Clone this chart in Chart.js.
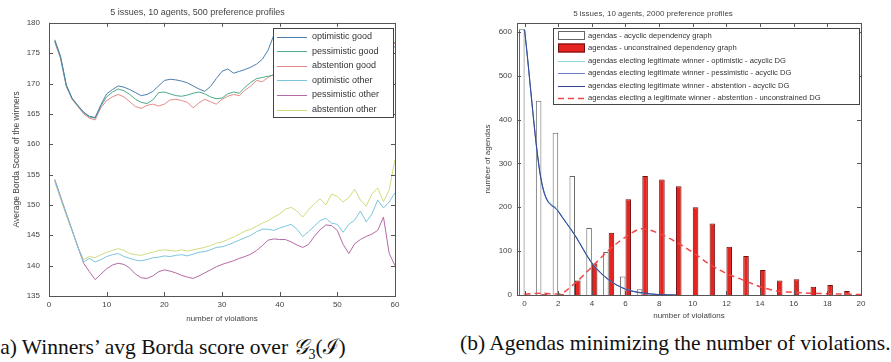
<!DOCTYPE html>
<html>
<head>
<meta charset="utf-8">
<script src="https://cdn.jsdelivr.net/npm/chart.js@4.4.0/dist/chart.umd.min.js"></script>
<style>
body { margin: 0; background: #fff; width: 891px; height: 362px; overflow: hidden; position: relative; }
canvas { position: absolute; top: 0; }
#left { left: 0; }
#right { left: 445px; }
.cap { position: absolute; top: 331px; font-family: 'Liberation Serif', 'Times New Roman', serif; font-size: 21.5px; color: #111; white-space: nowrap; }
.cap sub { font-size: 14px; }
</style>
</head>
<body>
<canvas id="left" width="445" height="326"></canvas>
<canvas id="right" width="446" height="326"></canvas>
<div class="cap" style="left:-7px">(a) Winners’ avg Borda score over <i>𝒢</i><sub>3</sub>(ℐ)</div>
<div class="cap" style="left:460px">(b) Agendas minimizing the number of violations.</div>
<script>
// (a) winners' average Borda score, x = number of violations
const violationsA = [];
for (let v = 1; v <= 60; v++) violationsA.push(v);

const optimisticGood = [177.2, 174.5, 169.8, 167.6, 166.4, 165.3, 164.6, 164.4, 166.5,
  168.3, 169.0, 169.6, 169.4, 169.0, 168.5, 168.0, 168.2, 168.7, 169.6,
  170.5, 170.7, 170.6, 170.4, 170.1, 169.6, 169.1, 168.7, 169.5, 170.8,
  172.0, 172.4, 171.7, 172.0, 172.3, 172.7, 173.2, 174.0, 175.5, 178.0,
  177.6, 177.2, 177.0, 176.8, 177.0, 176.6, 176.4, 176.8, 177.0, 176.5,
  176.2, 176.6, 176.9, 176.4, 176.0, 176.5, 176.8, 176.2, 175.8, 176.4, 176.0];
const pessimisticGood = [177.0, 174.3, 169.6, 167.5, 166.3, 165.2, 164.5, 164.3, 166.3,
  167.8, 168.6, 169.1, 168.8, 168.2, 167.4, 166.9, 166.7, 167.3, 168.5,
  168.6, 168.3, 168.0, 167.9, 168.1, 168.4, 168.6, 168.3, 167.8, 167.5,
  167.6, 168.3, 168.6, 168.4, 169.4, 170.2, 170.8, 171.0, 171.2, 171.4,
  171.8, 172.2, 172.6, 173.0, 173.4, 173.8, 174.2, 174.6, 175.0, 175.2,
  175.4, 175.6, 175.8, 176.0, 176.2, 176.0, 176.3, 176.5, 176.2, 176.6, 176.8];
const abstentionGood = [176.8, 174.1, 169.5, 167.4, 166.2, 165.0, 164.3, 164.0, 166.0,
  167.2, 167.8, 168.2, 167.8, 167.0, 166.2, 165.9, 166.4, 166.6, 166.3,
  166.6, 167.3, 167.4, 167.2, 166.9, 166.0, 166.8, 167.4, 167.0, 166.6,
  167.4, 167.9, 168.2, 168.0, 168.9, 169.6, 170.5, 170.3, 171.0, 171.5,
  171.9, 172.3, 172.6, 173.0, 173.3, 173.7, 174.0, 174.4, 174.8, 175.0,
  175.3, 175.5, 175.7, 175.9, 176.0, 175.8, 176.1, 176.3, 176.0, 176.4, 176.6];
const optimisticOther = [154.0, 151.2, 148.5, 145.8, 143.1, 140.6, 141.2, 140.6, 141.0,
  141.5, 141.8, 142.0, 141.5, 141.2, 140.9, 140.8, 141.0, 141.3, 141.4,
  141.6, 141.5, 141.7, 141.8, 141.6, 141.9, 142.2, 142.3, 142.6, 143.0,
  143.1, 143.4, 143.8, 144.2, 144.6, 145.0, 145.6, 146.0, 146.0, 145.8,
  146.2, 146.5, 146.8, 146.0, 144.8, 145.6, 146.5, 147.4, 147.8, 147.0,
  146.8, 145.5, 146.8, 147.5, 149.0, 147.2, 148.5, 150.8, 149.5, 150.5, 152.0];
const pessimisticOther = [154.2, 151.4, 148.6, 145.9, 143.1, 140.4, 139.0, 137.7, 138.6,
  139.5, 140.1, 140.4, 140.2, 139.6, 138.6, 138.0, 137.9, 138.3, 139.0,
  139.3, 139.1, 138.8, 138.4, 138.1, 137.9, 138.3, 138.8, 139.3, 139.8,
  140.2, 140.5, 140.8, 141.2, 141.5, 141.9, 142.5, 143.3, 144.2, 144.4,
  144.3, 144.3, 143.9, 143.4, 143.0, 143.5, 144.8, 145.9, 146.7, 146.6,
  145.8, 143.5, 142.0, 143.6, 144.3, 144.8, 145.2, 145.8, 148.0, 142.0, 140.0];
const abstentionOther = [153.8, 151.0, 148.3, 145.7, 143.1, 141.0, 141.5, 141.3, 141.8,
  142.2, 142.5, 142.8, 142.5, 142.0, 141.8, 141.7, 142.0, 142.2, 142.5,
  142.6, 142.5, 142.4, 142.6, 142.4, 142.6, 142.8, 143.0, 143.3, 143.7,
  143.9, 144.3, 144.7, 145.2, 145.7, 146.0, 146.5, 147.0, 147.4, 148.0,
  148.5, 149.3, 149.6, 149.0, 148.0, 149.2, 150.2, 151.0, 150.0, 151.8,
  151.4, 150.5, 151.2, 152.6, 150.8, 149.8, 151.8, 152.8, 150.5, 152.5, 157.5];

const xTicksA = [0, 10, 20, 30, 40, 50, 60];
const yTicksA = [135, 140, 145, 150, 155, 160, 165, 170, 175, 180];

// (b) agendas per number of violations
const violationsB = [0, 1, 2, 3, 4, 5, 6, 7, 8, 9, 10, 11, 12, 13, 14, 15, 16, 17, 18, 19];
const acyclicAgendas = [606, 443, 370, 271, 153, 98, 42, 13, 2, 0, 0, 0, 0, 0, 0, 0, 0, 0, 0, 0];
const unconstrainedAgendas = [1, 3, 2, 33, 72, 142, 218, 271, 263, 248, 200, 163, 110, 89, 57, 33, 36, 19, 23, 9];

const winnerViolations = [0, 1, 2, 3, 4, 5, 6, 7, 8, 9];
const optimisticAcyclic = [606, 262, 193, 137, 75, 35, 14, 4, 1, 0];
const pessimisticAcyclic = [604, 258, 190, 135, 72, 34, 14, 4, 1, 0];
const abstentionAcyclic = [605, 260, 191, 136, 73, 35, 13, 5, 1, 0];

const winnerViolationsU = [0, 1, 2, 3, 4, 5, 6, 7, 8, 9, 10, 11, 12, 13, 14, 15, 16, 17, 18, 19, 20];
const abstentionUnconstrained = [2, 4, 2, 27, 64, 102, 132, 151, 140, 121, 97, 70, 49, 34, 19, 9, 6, 4, 3, 2, 1];

const xTicksB = [0, 2, 4, 6, 8, 10, 12, 14, 16, 18, 20];
const yTicksB = [0, 100, 200, 300, 400, 500, 600];

const FONT = "'Liberation Sans', Arial, sans-serif";
const TXT = '#444';

function pts(xs, ys) {
  return xs.map((x, i) => ({ x: x, y: ys[i] }));
}

// matlab-like frame: box, inward ticks on all four sides, boxed legend in the plot
const axisBox = {
  id: 'axisBox',
  afterDatasetsDraw(chart, args, o) {
    const ctx = chart.ctx, a = chart.chartArea;
    const xs = chart.scales.x, ys = chart.scales.y;
    ctx.save();
    ctx.strokeStyle = '#555';
    ctx.lineWidth = 1;
    ctx.beginPath();
    xs.ticks.forEach(t => {
      const p = Math.round(xs.getPixelForValue(t.value)) + 0.5;
      ctx.moveTo(p, a.bottom); ctx.lineTo(p, a.bottom - 4);
      ctx.moveTo(p, a.top); ctx.lineTo(p, a.top + 4);
    });
    ys.ticks.forEach(t => {
      const p = Math.round(ys.getPixelForValue(t.value)) + 0.5;
      ctx.moveTo(a.left, p); ctx.lineTo(a.left + 4, p);
      ctx.moveTo(a.right, p); ctx.lineTo(a.right - 4, p);
    });
    ctx.stroke();

    const L = o.legend;
    ctx.fillStyle = '#fff';
    ctx.fillRect(L.x, L.y, L.w, L.h);
    ctx.strokeStyle = '#444';
    ctx.strokeRect(L.x + 0.5, L.y + 0.5, L.w, L.h);
    ctx.font = L.font;
    ctx.textBaseline = 'middle';
    chart.data.datasets.forEach((ds, i) => {
      const y = L.y + L.first + i * L.step;
      if (ds.type === 'bar') {
        ctx.fillStyle = ds.backgroundColor;
        ctx.fillRect(L.x + L.s0, y - 4.5, L.s1 - L.s0, 9);
        ctx.strokeStyle = ds.borderColor;
        ctx.strokeRect(L.x + L.s0 + 0.5, y - 4, L.s1 - L.s0 - 1, 8);
      } else {
        ctx.strokeStyle = ds.borderColor;
        ctx.lineWidth = ds.borderWidth;
        ctx.setLineDash(ds.borderDash || []);
        ctx.beginPath();
        ctx.moveTo(L.x + L.s0, Math.round(y) + 0.5);
        ctx.lineTo(L.x + L.s1, Math.round(y) + 0.5);
        ctx.stroke();
        ctx.setLineDash([]);
        ctx.lineWidth = 1;
      }
      ctx.fillStyle = '#333';
      ctx.fillText(ds.label, L.x + L.tx, y);
    });

    ctx.strokeStyle = '#555';
    ctx.strokeRect(Math.round(a.left) + 0.5, Math.round(a.top) + 0.5, Math.round(a.width), Math.round(a.height));
    ctx.restore();
  }
};

function fixedTicks(list) {
  return s => { s.ticks = list.map(v => ({ value: v })); };
}

function lineSet(label, xs, ys, color, order) {
  return { type: 'line', label: label, data: pts(xs, ys), borderColor: color, borderWidth: 1,
    pointRadius: 0, tension: 0, fill: false, order: order || 1 };
}

new Chart(document.getElementById('left'), {
  type: 'line',
  data: {
    datasets: [
      lineSet('optimistic good', violationsA, optimisticGood, '#4d7fae'),
      lineSet('pessimistic good', violationsA, pessimisticGood, '#4fa98a'),
      lineSet('abstention good', violationsA, abstentionGood, '#e48a8a'),
      lineSet('optimistic other', violationsA, optimisticOther, '#7cc6dc'),
      lineSet('pessimistic other', violationsA, pessimisticOther, '#b46aa6'),
      lineSet('abstention other', violationsA, abstentionOther, '#cfdc7e')
    ]
  },
  options: {
    responsive: false,
    animation: false,
    events: [],
    layout: { padding: { left: 0, right: 50, top: 0, bottom: 0 } },
    plugins: {
      legend: { display: false },
      tooltip: { enabled: false },
      title: { display: true, text: '5 issues, 10 agents, 500 preference profiles', color: TXT,
        font: { family: FONT, size: 9, weight: 'normal' }, padding: { top: 7, bottom: 5 } },
      axisBox: { legend: { x: 273, y: 28, w: 120, h: 89, first: 8.5, step: 14.6, s0: 4, s1: 34, tx: 39,
        font: '9px ' + FONT } }
    },
    scales: {
      x: {
        type: 'linear', min: 0, max: 60, offset: false,
        afterBuildTicks: fixedTicks(xTicksA),
        afterFit: s => { s.height = 30; },
        grid: { display: false, drawTicks: false }, border: { display: false },
        ticks: { color: TXT, font: { family: FONT, size: 8 }, padding: 4, maxRotation: 0, autoSkip: false },
        title: { display: true, text: 'number of violations', color: TXT,
          font: { family: FONT, size: 8 }, padding: { top: 0, bottom: 2 } }
      },
      y: {
        min: 135, max: 180,
        afterBuildTicks: fixedTicks(yTicksA),
        afterFit: s => { s.width = 49; },
        grid: { display: false, drawTicks: false }, border: { display: false },
        ticks: { color: TXT, font: { family: FONT, size: 8 }, padding: 9, autoSkip: false },
        title: { display: true, text: 'Average Borda Score of the winners', color: TXT,
          font: { family: FONT, size: 8.5 }, padding: { top: 12, bottom: 0 } }
      }
    }
  },
  plugins: [axisBox]
});

new Chart(document.getElementById('right'), {
  type: 'bar',
  data: {
    datasets: [
      { type: 'bar', label: 'agendas - acyclic dependency graph', data: pts(violationsB, acyclicAgendas),
        backgroundColor: '#ffffff', borderColor: '#666666', borderWidth: 1,
        categoryPercentage: 0.66, barPercentage: 1, order: 2 },
      { type: 'bar', label: 'agendas - unconstrained dependency graph', data: pts(violationsB, unconstrainedAgendas),
        backgroundColor: '#e5241f', borderColor: '#6e1010', borderWidth: 1,
        categoryPercentage: 0.66, barPercentage: 1, order: 2 },
      Object.assign(lineSet('agendas electing legitimate winner - optimistic - acyclic DG',
        winnerViolations, optimisticAcyclic, '#8fd6dc', 0.9), { cubicInterpolationMode: 'monotone' }),
      Object.assign(lineSet('agendas electing legitimate winner - pessimistic - acyclic DG',
        winnerViolations, pessimisticAcyclic, '#6f7fc6', 0.7), { cubicInterpolationMode: 'monotone' }),
      Object.assign(lineSet('agendas electing legitimate winner - abstention - acyclic DG',
        winnerViolations, abstentionAcyclic, '#34458f', 0.5), { cubicInterpolationMode: 'monotone' }),
      Object.assign(lineSet('agendas electing a legitimate winner - abstention - unconstrained DG',
        winnerViolationsU, abstentionUnconstrained, '#f04848', 0.3),
        { cubicInterpolationMode: 'monotone', borderDash: [6, 4], borderWidth: 1.5 })
    ]
  },
  options: {
    responsive: false,
    animation: false,
    events: [],
    layout: { padding: { left: 0, right: 30, top: 0, bottom: 0 } },
    plugins: {
      legend: { display: false },
      tooltip: { enabled: false },
      title: { display: true, text: '5 issues, 10 agents, 2000 preference profiles', color: TXT,
        font: { family: FONT, size: 8, weight: 'normal' }, padding: { top: 9, bottom: 4.4 } },
      axisBox: { legend: { x: 108, y: 28, w: 306, h: 76, first: 7.5, step: 12.5, s0: 5, s1: 32, tx: 35,
        font: '7.6px ' + FONT } }
    },
    scales: {
      x: {
        type: 'linear', min: -0.45, max: 20, offset: false,
        afterBuildTicks: fixedTicks(xTicksB),
        afterFit: s => { s.height = 31; },
        grid: { display: false, drawTicks: false }, border: { display: false },
        ticks: { color: TXT, font: { family: FONT, size: 8 }, padding: 4, maxRotation: 0, autoSkip: false },
        title: { display: true, text: 'number of violations', color: TXT,
          font: { family: FONT, size: 8 }, padding: { top: 0, bottom: 5.5 } }
      },
      y: {
        min: 0, max: 620,
        afterBuildTicks: fixedTicks(yTicksB),
        afterFit: s => { s.width = 72; },
        grid: { display: false, drawTicks: false }, border: { display: false },
        ticks: { color: TXT, font: { family: FONT, size: 8 }, padding: 5, autoSkip: false },
        title: { display: true, text: 'number of agendas', color: TXT,
          font: { family: FONT, size: 8 }, padding: { top: 38, bottom: 0 } }
      }
    }
  },
  plugins: [axisBox]
});
</script>
</body>
</html>
